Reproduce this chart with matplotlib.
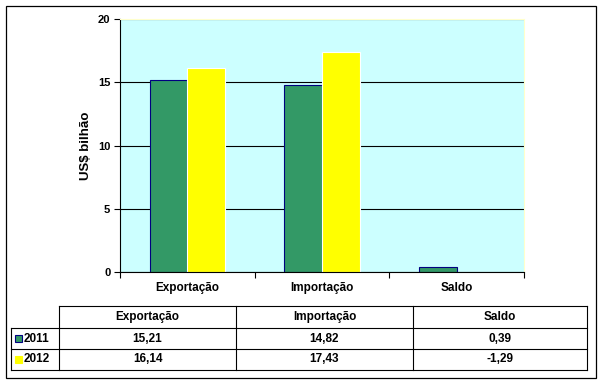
import matplotlib.pyplot as plt
import numpy as np
from matplotlib.patches import Rectangle

plt.rcParams['font.family'] = ['Liberation Sans', 'DejaVu Sans']
plt.rcParams['font.weight'] = 'bold'

categories = ['Exportação', 'Importação', 'Saldo']
years = ['2011', '2012']
v2011 = [15.21, 14.82, 0.39]
v2012 = [16.14, 17.43, -1.29]
colors = ['#339966', '#FFFF00']
edges = ['#000080', '#FFFFFF']

W, H = 602, 383
fig = plt.figure(figsize=(W / 100, H / 100), dpi=100)

def fx(px):
    return px / W

def fy(py):
    return 1 - py / H

# outer frame
fig.add_artist(Rectangle((fx(6), fy(378)), fx(590), 372 / H, transform=fig.transFigure,
                         fill=False, edgecolor='black', linewidth=0.9))

# bar chart
ax = fig.add_axes([fx(120), fy(272), fx(404), 253 / H])
ax.set_facecolor('#CCFFFF')
x = np.arange(len(categories))
bw = 0.28
ax.bar(x - bw / 2, v2011, bw, color=colors[0], edgecolor=edges[0], linewidth=0.8, zorder=2)
ax.bar(x + bw / 2, v2012, bw, color=colors[1], edgecolor=edges[1], linewidth=0.8, zorder=2)
ax.set_xlim(-0.5, len(categories) - 0.5)
ax.set_ylim(0, 20)
ax.set_yticks([0, 5, 10, 15, 20])
ax.set_axisbelow(True)
ax.yaxis.grid(True, color='black', linewidth=0.8)
ax.set_xticks(x)
ax.set_xticklabels(categories, fontsize=8.5, fontweight='bold')
ax.set_xticks(np.arange(len(categories) + 1) - 0.5, minor=True)
ax.tick_params(axis='x', which='major', length=0, pad=7)
ax.tick_params(axis='x', which='minor', length=4, width=0.8, color='black')
ax.tick_params(axis='y', length=4, width=0.8, pad=3, labelsize=8)
for lab in ax.get_yticklabels():
    lab.set_fontweight('bold')
ax.set_ylabel('US$ bilhão', fontsize=9.5, fontweight='bold', labelpad=4)
for s in ['left', 'bottom']:
    ax.spines[s].set_color('black')
    ax.spines[s].set_linewidth(0.8)
for s in ['top', 'right']:
    ax.spines[s].set_color('#FFFFCC')
    ax.spines[s].set_linewidth(0.8)

# data table below the chart
tab = fig.add_axes([0, 0, 1, 1])
tab.set_xlim(0, W)
tab.set_ylim(H, 0)
tab.axis('off')
lw = 0.8
cols = [59, 236, 413, 587]
rows = [306, 328, 349, 370]
tab.plot([cols[0], cols[-1]], [rows[0], rows[0]], color='black', lw=lw)
for r in rows[1:]:
    tab.plot([11, cols[-1]], [r, r], color='black', lw=lw)
tab.plot([11, 11], [rows[1], rows[-1]], color='black', lw=lw)
for c in cols:
    tab.plot([c, c], [rows[0], rows[-1]], color='black', lw=lw)

for i, cat in enumerate(categories):
    cx = (cols[i] + cols[i + 1]) / 2
    tab.text(cx, (rows[0] + rows[1]) / 2, cat, ha='center', va='center',
             fontsize=8.5, fontweight='bold')
table_vals = [v2011, v2012]
for j, (yr, vals) in enumerate(zip(years, table_vals)):
    cy = (rows[j + 1] + rows[j + 2]) / 2
    tab.add_patch(Rectangle((15, cy - 3.5), 7, 7, facecolor=colors[j],
                            edgecolor=edges[0] if j == 0 else colors[j], linewidth=0.8))
    tab.text(24, cy, yr, ha='left', va='center', fontsize=8.5, fontweight='bold')
    for i, v in enumerate(vals):
        cx = (cols[i] + cols[i + 1]) / 2
        tab.text(cx, cy, f'{v:.2f}'.replace('.', ','), ha='center', va='center',
                 fontsize=8.5, fontweight='bold')

fig.savefig('out.png', dpi=100)
